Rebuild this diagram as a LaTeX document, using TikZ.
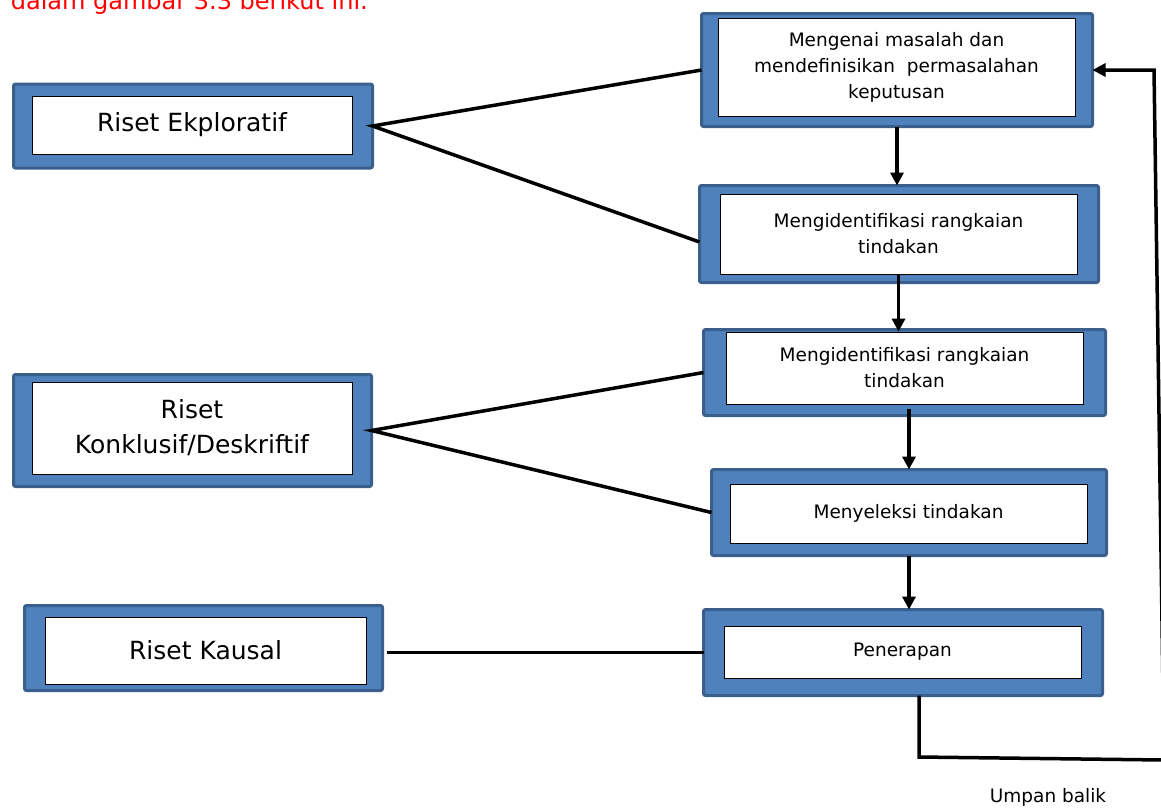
\documentclass[tikz,border=0pt]{standalone}
\usepackage{fontspec}
\setmainfont{DejaVu Sans}
\usetikzlibrary{arrows.meta}
\definecolor{frameblue}{HTML}{4F81BD}
\definecolor{frameedge}{HTML}{3A5F8C}

\begin{document}
\begin{tikzpicture}[x=1pt,y=-1pt,
   frame/.style={draw=frameedge,fill=frameblue,line width=3pt,rounded corners=2pt,inner sep=0pt,outer sep=0pt},
   card/.style={draw,fill=white,line width=0.8pt,align=center,font=\fontsize{18.5}{26}\selectfont},
   bigcard/.style={card,font=\fontsize{25}{35}\selectfont},
   link/.style={line width=3.5pt},
   flow/.style={line width=3.5pt,-{Triangle[length=13pt,width=13pt]}}]
   \useasboundingbox (0,0) rectangle (1161,807);

   \node[anchor=base east,inner sep=0pt,text=red,font=\fontsize{24}{30}\selectfont] (caption) at (368,9.5) {dalam gambar 3.3 berikut ini.};

   \node[frame,minimum width=391,minimum height=113] (mengenai) at (897,70) {};
   \node[card,minimum width=357,minimum height=98] (mengenaiT) at (896.5,67) {Mengenai masalah dan\\mendefinisikan\ \ permasalahan\\keputusan};
   \node[frame,minimum width=399,minimum height=97] (identA) at (899,234) {};
   \node[card,minimum width=357,minimum height=80] (identAT) at (898.5,234) {Mengidentifikasi rangkaian\\tindakan};
   \node[frame,minimum width=402,minimum height=86] (identB) at (904.5,372.5) {};
   \node[card,minimum width=357,minimum height=72] (identBT) at (904.5,368) {Mengidentifikasi rangkaian\\tindakan};
   \node[frame,minimum width=395,minimum height=86] (seleksi) at (909,512.5) {};
   \node[card,minimum width=357,minimum height=59] (seleksiT) at (908.5,513.5) {Menyeleksi tindakan};
   \node[frame,minimum width=399,minimum height=86] (terap) at (903,652.5) {};
   \node[card,minimum width=357,minimum height=52] (terapT) at (902.5,652) {Penerapan};

   \node[frame,minimum width=359,minimum height=84] (ekplor) at (193,126) {};
   \node[bigcard,minimum width=320,minimum height=58] (ekplorT) at (192,125) {Riset Ekploratif};
   \node[frame,minimum width=358,minimum height=112] (konklusif) at (192.5,430.5) {};
   \node[bigcard,minimum width=320,minimum height=92] (konklusifT) at (192,428) {Riset\\Konklusif/Deskriftif};
   \node[frame,minimum width=358,minimum height=85] (kausal) at (203.5,648) {};
   \node[bigcard,minimum width=321,minimum height=67] (kausalT) at (205.5,650.5) {Riset Kausal};

   \node[anchor=base,font=\fontsize{18.5}{22}\selectfont] (umpan) at (1048,802) {Umpan balik};

   \draw[link] (mengenai.west) -- (ekplor.east) -- ([yshift=-8pt]identA.west);
   \draw[link] (identB.west) -- (konklusif.east) -- (seleksi.west);
   \draw[link] ([xshift=4pt]kausal.east |- terap.west) -- (terap.west);

   \draw[flow] (mengenai.south) -- (mengenai.south |- identA.north);
   \draw[flow] (identAT.south) -- (identAT.south |- identBT.north);
   \draw[flow] (identBT.south -| seleksi.north) ++(0,5) -- (seleksi.north);
   \draw[flow] (seleksi.south) -- (seleksi.south |- terap.north);

   \coordinate (fbl) at (919,757);
   \coordinate (fbr) at (1164,760);
   \coordinate (fbt) at (1154,70);
   \draw[flow] (fbl |- terap.south) -- (fbl) -- (fbr) -- (fbt) -- (mengenai.east);
\end{tikzpicture}
\end{document}
